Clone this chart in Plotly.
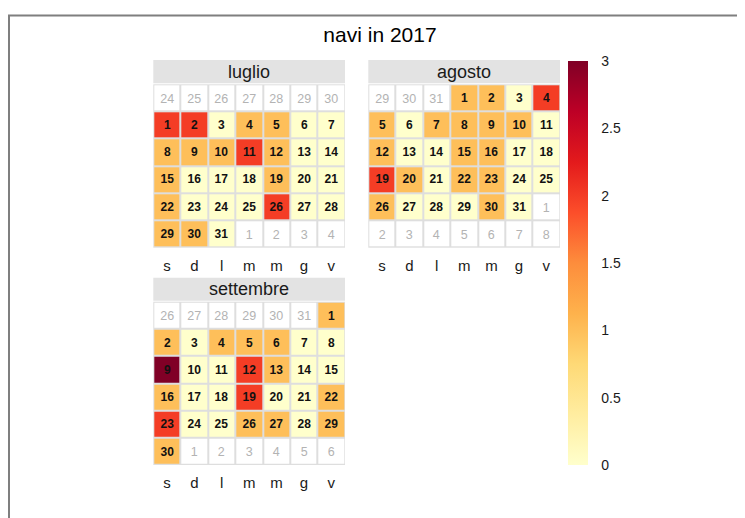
from datetime import date, timedelta

import plotly.graph_objects as go

# --- data -------------------------------------------------------------
title = "navi in 2017"
year = 2017
month_names = ["luglio", "agosto", "settembre"]
month_numbers = [7, 8, 9]
weekday_labels = ["s", "d", "l", "m", "m", "g", "v"]

luglio = [2, 2, 0, 1, 1, 0, 0, 1, 1, 1, 2, 1, 0, 0, 1, 0, 0, 0, 1, 0,
          0, 1, 0, 0, 0, 2, 0, 0, 1, 1, 0]
agosto = [1, 1, 0, 2, 1, 0, 1, 1, 1, 1, 0, 1, 0, 0, 1, 1, 0, 0, 2, 1,
          0, 1, 1, 0, 0, 1, 0, 0, 0, 1, 0]
settembre = [1, 1, 0, 1, 1, 1, 0, 0, 3, 0, 0, 2, 1, 0, 0, 1, 0, 0, 2, 0,
             0, 1, 2, 0, 0, 1, 1, 0, 1, 1]
month_values = [luglio, agosto, settembre]

colorbar_ticks = [0, 0.5, 1, 1.5, 2, 2.5, 3]
colorbar_text = ["0", "0.5", "1", "1.5", "2", "2.5", "3"]

# --- layout constants (screen pixels of the 745x518 window) -------------
W, H = 745, 518
OFF = 8  # the page body margin shifts the figure by 8px
# (left, right, header top, tiles top, tiles bottom)
panels = [
    (153.3, 345.0, 60.0, 84.3, 247.7),
    (368.3, 560.0, 60.0, 84.3, 247.7),
    (153.3, 345.0, 277.7, 301.7, 465.0),
]

YLORRD = [
    [0.0, "#ffffcc"], [0.125, "#ffeda0"], [0.25, "#fed976"],
    [0.375, "#feb24c"], [0.5, "#fd8d3c"], [0.625, "#fc4e2a"],
    [0.75, "#e31a1c"], [0.875, "#bd0026"], [1.0, "#800026"],
]
FONT = "Liberation Sans, Arial, sans-serif"


def px_x(x):
    return (x - OFF) / W


def px_y(y):
    return 1 - (y - OFF) / H


def month_grid(month, values):
    """6x7 grid starting on Saturday; in-month and out-of-month layers."""
    first = date(year, month, 1)
    offset = (first.weekday() - 5) % 7
    if offset == 0:
        offset = 7
    start = first - timedelta(days=offset)
    z_in, t_in, z_out, t_out = [], [], [], []
    for r in range(6):
        zi, ti, zo, to = [], [], [], []
        for c in range(7):
            d = start + timedelta(days=r * 7 + c)
            if d.month == month:
                zi.append(values[d.day - 1])
                ti.append(str(d.day))
                zo.append(None)
                to.append("")
            else:
                zi.append(None)
                ti.append("")
                zo.append(0)
                to.append(str(d.day))
        z_in.append(zi)
        t_in.append(ti)
        z_out.append(zo)
        t_out.append(to)
    return z_in, t_in, z_out, t_out


fig = go.Figure()
shapes = []
annotations = []
layout_axes = {}

for i, (name, month, values, box) in enumerate(
        zip(month_names, month_numbers, month_values, panels)):
    left, right, head_top, top, bottom = box
    z_in, t_in, z_out, t_out = month_grid(month, values)
    sfx = "" if i == 0 else str(i + 1)

    fig.add_trace(go.Heatmap(
        z=z_out, text=t_out, texttemplate="%{text}",
        x=list(range(7)), y=list(range(6)),
        colorscale=[[0, "white"], [1, "white"]], showscale=False,
        xgap=2, ygap=2, hoverinfo="skip",
        textfont=dict(color="#b3b3b3", size=12.5, family=FONT),
        xaxis="x" + sfx, yaxis="y" + sfx,
    ))
    fig.add_trace(go.Heatmap(
        z=z_in, text=t_in, texttemplate="<b>%{text}</b>",
        x=list(range(7)), y=list(range(6)),
        coloraxis="coloraxis", xgap=2, ygap=2,
        textfont=dict(color="#111111", size=12, family=FONT),
        hovertemplate=name + " %{text}: %{z}<extra></extra>",
        xaxis="x" + sfx, yaxis="y" + sfx,
    ))

    layout_axes["xaxis" + sfx] = dict(
        domain=[px_x(left), px_x(right)], range=[-0.5, 6.5],
        anchor="y" + sfx, showgrid=False, zeroline=False, showline=False,
        tickmode="array", tickvals=list(range(7)), ticktext=weekday_labels,
        ticks="", ticklabelstandoff=7,
        tickfont=dict(size=15, color="#1a1a1a", family=FONT),
        fixedrange=True,
    )
    layout_axes["yaxis" + sfx] = dict(
        domain=[px_y(bottom), px_y(top)], range=[5.5, -0.5],
        anchor="x" + sfx, showgrid=False, zeroline=False, showline=False,
        showticklabels=False, ticks="", fixedrange=True,
    )

    # facet strip with month name
    shapes.append(dict(
        type="rect", xref="paper", yref="paper",
        x0=px_x(left), x1=px_x(right), y0=px_y(top - 1), y1=px_y(head_top),
        fillcolor="#e3e3e3", line=dict(width=0), layer="below",
    ))
    annotations.append(dict(
        text=name, xref="paper", yref="paper",
        x=px_x((left + right) / 2), y=px_y((head_top + top - 1) / 2),
        xanchor="center", yanchor="middle", showarrow=False,
        font=dict(size=18, color="#1a1a1a", family=FONT),
    ))

# outer frame of the picture
shapes.append(dict(
    type="rect", xref="paper", yref="paper",
    x0=px_x(9), x1=1.05, y0=-0.05, y1=px_y(15.5),
    line=dict(color="#7f7f7f", width=2), fillcolor="rgba(0,0,0,0)",
))

fig.update_layout(
    width=W, height=H,
    margin=dict(l=0, r=0, t=0, b=0),
    paper_bgcolor="white",
    plot_bgcolor="#dedede",
    showlegend=False,
    title=dict(
        text=title, x=px_x(380), y=px_y(35), xanchor="center",
        yanchor="middle", font=dict(size=21, color="black", family=FONT),
    ),
    coloraxis=dict(
        colorscale=YLORRD, cmin=0, cmax=3,
        colorbar=dict(
            x=px_x(568), xanchor="left", y=px_y(61), yanchor="top",
            len=(465 - 61) / H, lenmode="fraction",
            thickness=20, thicknessmode="pixels", xpad=0, ypad=0,
            outlinewidth=0, tickmode="array", tickvals=colorbar_ticks,
            ticktext=colorbar_text, ticks="outside", ticklen=11,
            tickcolor="rgba(0,0,0,0)",
            tickfont=dict(size=14, color="#1a1a1a", family=FONT),
        ),
    ),
    shapes=shapes,
    annotations=annotations,
    **layout_axes,
)

fig.write_html("out.html")
